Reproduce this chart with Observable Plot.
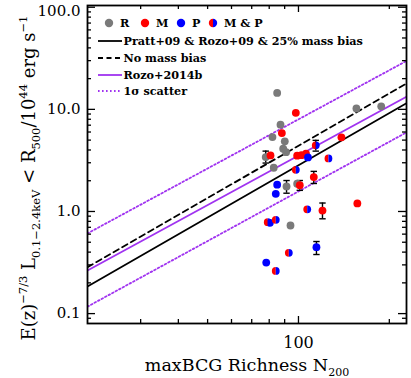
<!DOCTYPE html>
<html><head><meta charset="utf-8">
<script src="https://cdn.jsdelivr.net/npm/d3@7"></script>
<script src="https://cdn.jsdelivr.net/npm/@observablehq/plot@0.6"></script>
<style>
html,body{margin:0;padding:0;background:#fff;}
#chart{width:411px;height:378px;}
svg{display:block;}
</style></head><body><div id="chart"></div>
<script>
// ---------- data ----------
// R sample (grey)
const rN = [85.0, 87.2, 82.0, 90.1, 89.0, 91.0, 77.9, 82.8, 91.3, 99.0, 94.1, 155.6, 188];
const rL = [14.5, 7.08, 5.35, 4.86, 4.12, 3.81, 3.41, 2.68, 1.76, 1.87, 0.729, 10.2, 10.7];
// M sample (red)
const mN = [98.0, 88.1, 80.8, 99.0, 102.3, 105.9, 138.8, 112.4, 101.0, 120.1, 156.7];
const mL = [9.24, 5.86, 3.54, 3.52, 3.56, 3.68, 5.32, 2.17, 1.81, 1.02, 1.20];
// P sample (blue)
const pN = [107.5, 85.0, 84.1, 80.4, 114.7, 78.2];
const pL = [3.38, 1.83, 1.49, 0.775, 0.447, 0.316];
// M & P (half red / half blue)
const mpN = [114.1, 125.7, 98.0, 106.9, 79.1, 84.1, 92.9, 84.1];
const mpL = [4.44, 3.31, 2.56, 1.05, 0.786, 0.829, 0.394, 0.262];
// error bars
const errN  = [77.9, 91.3, 112.4, 101.0, 120.1, 114.1, 114.7];
const errLo = [2.98, 1.51, 1.88, 1.61, 0.848, 3.90, 0.379];
const errHi = [3.90, 2.01, 2.47, 2.01, 1.21, 4.97, 0.508];
// scaling relations (end points)
const relN = [20, 228];
const prattL   = [0.184, 11.5];   // Pratt+09 & Rozo+09 & 25% mass bias
const noBiasL  = [0.285, 17.9];   // No mass bias
const rozoL    = [0.264, 13.3];   // Rozo+2014b
const rozoHiL  = [0.61, 29.8];    // 1 sigma scatter (upper)
const rozoLoL  = [0.117, 5.95];   // 1 sigma scatter (lower)
// axes
const xDomain = [20, 228];
const yDomain = [0.08, 104];
const xMajor = [100];
const xMajorLabels = ["100"];
const xMinor = [30, 40, 50, 60, 70, 80, 90, 200];
const yMajor = [0.1, 1, 10, 100];
const yMajorLabels = ["0.1", "1.0", "10.0", "100.0"];
const yMinor = [0.09, 0.2, 0.3, 0.4, 0.5, 0.6, 0.7, 0.8, 0.9, 2, 3, 4, 5, 6, 7, 8, 9, 20, 30, 40, 50, 60, 70, 80, 90];
// legend
const legendSamples = ["R", "M", "P", "M & P"];
const legendLines = ["Pratt+09 & Rozo+09 & 25% mass bias", "No mass bias", "Rozo+2014b", "1σ scatter"];

// ---------- styles ----------
const W = 411, H = 378, MARGIN_L = 87, MARGIN_R = 5, MARGIN_T = 5, MARGIN_B = 55;
const iW = W - MARGIN_L - MARGIN_R, iH = H - MARGIN_T - MARGIN_B;
const FONT = "'DejaVu Serif', serif";
const GREY = "#7a7a7a", RED = "#ff0000", BLUE = "#0000ff", PURPLE = "#a033f0";
const R = 3.9;

const halfL = {draw(ctx, size){const r = Math.sqrt(size/Math.PI); ctx.moveTo(0,-r); ctx.arc(0,0,r,-Math.PI/2,Math.PI/2,true); ctx.closePath();}};
const halfR = {draw(ctx, size){const r = Math.sqrt(size/Math.PI); ctx.moveTo(0,-r); ctx.arc(0,0,r,-Math.PI/2,Math.PI/2,false); ctx.closePath();}};
const cap = {draw(ctx, size){ctx.moveTo(-3.2,0); ctx.lineTo(3.2,0);}};

const idx = a => a.map((_, i) => i);
const relLine = (L) => relN.map((n, i) => ({n, l: L[i]}));
const yLow = yMajor.filter(d => d < 100), yTop = yMajor.filter(d => d >= 100);

const plot = Plot.plot({
  width: W, height: H,
  marginLeft: MARGIN_L, marginRight: MARGIN_R, marginTop: MARGIN_T, marginBottom: MARGIN_B,
  x: {type: "log", domain: xDomain, axis: null},
  y: {type: "log", domain: yDomain, axis: null},
  style: {background: "#fff", fontFamily: FONT},
  marks: [
    // relations
    Plot.line(relLine(rozoHiL), {x: "n", y: "l", stroke: PURPLE, strokeWidth: 1.8, strokeDasharray: "1.6,2.4", clip: true}),
    Plot.line(relLine(rozoLoL), {x: "n", y: "l", stroke: PURPLE, strokeWidth: 1.8, strokeDasharray: "1.6,2.4", clip: true}),
    Plot.line(relLine(noBiasL), {x: "n", y: "l", stroke: "#000", strokeWidth: 1.8, strokeDasharray: "6,4", clip: true}),
    Plot.line(relLine(rozoL), {x: "n", y: "l", stroke: PURPLE, strokeWidth: 1.8, clip: true}),
    Plot.line(relLine(prattL), {x: "n", y: "l", stroke: "#000", strokeWidth: 1.8, clip: true}),
    // error bars
    Plot.ruleX(idx(errN), {x: i => errN[i], y1: i => errLo[i], y2: i => errHi[i], stroke: "#000", strokeWidth: 1.4}),
    Plot.dot(idx(errN), {x: i => errN[i], y: i => errLo[i], symbol: cap, stroke: "#000", fill: "none", strokeWidth: 1.4}),
    Plot.dot(idx(errN), {x: i => errN[i], y: i => errHi[i], symbol: cap, stroke: "#000", fill: "none", strokeWidth: 1.4}),
    // points
    Plot.dot(idx(rN), {x: i => rN[i], y: i => rL[i], r: R, fill: GREY, clip: true}),
    Plot.dot(idx(mN), {x: i => mN[i], y: i => mL[i], r: R, fill: RED, clip: true}),
    Plot.dot(idx(pN), {x: i => pN[i], y: i => pL[i], r: R, fill: BLUE, clip: true}),
    Plot.dot(idx(mpN), {x: i => mpN[i], y: i => mpL[i], r: R, symbol: halfL, fill: RED, clip: true}),
    Plot.dot(idx(mpN), {x: i => mpN[i], y: i => mpL[i], r: R, symbol: halfR, fill: BLUE, clip: true}),
    // ticks (inward, on all four sides)
    Plot.ruleX(xMajor, {x: d => d, insetTop: iH - 7, stroke: "#000", strokeWidth: 1.3}),
    Plot.ruleX(xMinor, {x: d => d, insetTop: iH - 4, stroke: "#000", strokeWidth: 1.3}),
    Plot.ruleX(xMajor, {x: d => d, insetBottom: iH - 7, stroke: "#000", strokeWidth: 1.3}),
    Plot.ruleX(xMinor, {x: d => d, insetBottom: iH - 4, stroke: "#000", strokeWidth: 1.3}),
    Plot.ruleY(yMajor, {y: d => d, insetRight: iW - 8, stroke: "#000", strokeWidth: 1.3}),
    Plot.ruleY(yMinor, {y: d => d, insetRight: iW - 4, stroke: "#000", strokeWidth: 1.3}),
    Plot.ruleY(yMajor, {y: d => d, insetLeft: iW - 8, stroke: "#000", strokeWidth: 1.3}),
    Plot.ruleY(yMinor, {y: d => d, insetLeft: iW - 4, stroke: "#000", strokeWidth: 1.3}),
    // axis labels
    Plot.axisX({ticks: xMajor, tickFormat: (d) => xMajorLabels[xMajor.indexOf(d)], tickSize: 0, tickPadding: 13, fontSize: 16, fontFamily: FONT, label: null, fill: "#000"}),
    Plot.axisY({ticks: yLow, tickFormat: (d) => yMajorLabels[yMajor.indexOf(d)], tickSize: 0, tickPadding: 7, fontSize: 15, fontFamily: FONT, label: null, fill: "#000"}),
    Plot.axisY({ticks: yTop, tickFormat: (d) => yMajorLabels[yMajor.indexOf(d)], tickSize: 0, tickPadding: 7, dy: 4, fontSize: 15, fontFamily: FONT, label: null, fill: "#000"}),
    Plot.frame({stroke: "#000", strokeWidth: 1.8})
  ]
});
document.getElementById("chart").appendChild(plot);

const svg = d3.select(plot);
function rich(sel, parts, base, small) {
  let cur = 0;
  parts.forEach(([t, k]) => {
    const off = k === "sup" ? -0.45 * base : k === "sub" ? 0.28 * base : 0;
    sel.append("tspan").attr("dy", (off - cur).toFixed(2)).attr("font-size", k === "n" ? base : small).text(t);
    cur = off;
  });
}
// x title
const xt = svg.append("text").attr("x", 247).attr("y", 371).attr("text-anchor", "middle")
  .attr("font-family", FONT).attr("fill", "#000");
rich(xt, [["maxBCG Richness N", "n"], ["200", "sub"]], 17.5, 11);
// y title
const yt = svg.append("text").attr("transform", "translate(35,178) rotate(-90)").attr("text-anchor", "middle")
  .attr("font-family", FONT).attr("fill", "#000");
rich(yt, [["E(z)", "n"], ["−7/3", "sup"], [" L", "n"], ["0.1−2.4keV", "sub"], [" < R", "n"], ["500", "sub"],
          ["/10", "n"], ["44", "sup"], [" erg s", "n"], ["−1", "sup"]], 18, 11.5);

// legend
const lg = svg.append("g").attr("font-family", FONT).attr("font-weight", "bold").attr("font-size", 11.2)
  .attr("fill", "#000").attr("text-anchor", "start");
const sampleX = [109, 145, 181, 213];
const sampleColors = [GREY, RED, BLUE, null];
legendSamples.forEach((s, i) => {
  const cx = sampleX[i], cy = 23;
  if (sampleColors[i]) {
    lg.append("circle").attr("cx", cx).attr("cy", cy).attr("r", 4.2).attr("fill", sampleColors[i]);
  } else {
    lg.append("path").attr("d", `M${cx},${cy-4.2}A4.2,4.2 0 0 0 ${cx},${cy+4.2}Z`).attr("fill", RED);
    lg.append("path").attr("d", `M${cx},${cy-4.2}A4.2,4.2 0 0 1 ${cx},${cy+4.2}Z`).attr("fill", BLUE);
  }
  lg.append("text").attr("x", cx + 11).attr("y", cy + 4).text(s);
});
const lineY = [41, 58, 75, 91];
const lineStyles = [
  {stroke: "#000", dash: null},
  {stroke: "#000", dash: "5,3.5"},
  {stroke: PURPLE, dash: null},
  {stroke: PURPLE, dash: "1.6,2.4"}
];
legendLines.forEach((t, i) => {
  const y = lineY[i];
  const ln = lg.append("line").attr("x1", 98).attr("x2", 122).attr("y1", y).attr("y2", y)
    .attr("stroke", lineStyles[i].stroke).attr("stroke-width", 1.8);
  if (lineStyles[i].dash) ln.attr("stroke-dasharray", lineStyles[i].dash);
  lg.append("text").attr("x", 123.5).attr("y", y + 4).text(t);
});
</script>
</body></html>
